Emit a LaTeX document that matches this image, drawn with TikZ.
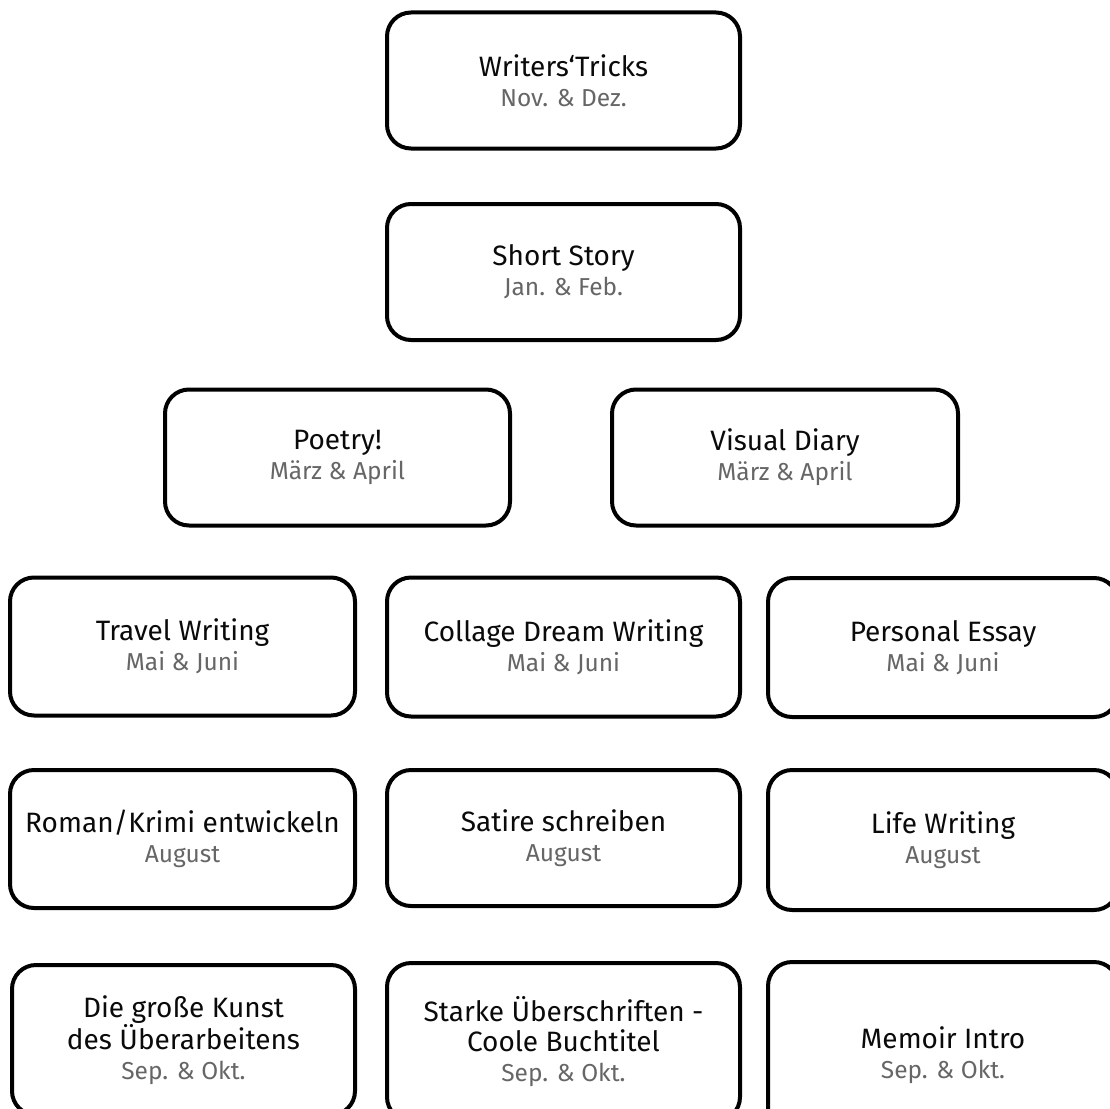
\documentclass[tikz,border=0pt]{standalone}
\usepackage{fontspec}
\setmainfont{Fira Sans}
\usepackage{xcolor}
\definecolor{datum}{HTML}{666666}
\definecolor{ink}{HTML}{0A0A0A}
\newcommand{\when}[1]{{\color{datum}\fontsize{24.5}{30}\selectfont #1}}
\tikzset{
  kurs/.style={draw=black, line width=4pt, rounded corners=24pt, fill=white,
    align=center, text=ink, font=\fontsize{28}{30}\selectfont,
    minimum width=#1, minimum height=136pt, inner sep=0pt},
  kurs/.default=353pt
}

\begin{document}
\begin{tikzpicture}[x=1pt, y=-1pt]
      %► Canvas, same size as the page
      \useasboundingbox (0,0) rectangle (1110,1108);

      %► Top column
      \node[kurs] (tricks) at (563.5,80.5)  {Writers‘Tricks\\\when{Nov. \& Dez.}};
      \node[kurs] (story)  at (563.5,272)   {Short Story\\\when{Jan. \& Feb.}};

      %► Third row
      \node[kurs=345pt] (poetry) at (337.5,457.5) {Poetry!\\\when{März \& April}};
      \node[kurs=346pt] (diary)  at (785,457.5)   {Visual Diary\\\when{März \& April}};

      %► Mai & Juni
      \node[kurs=345pt, minimum height=138pt] (travel)  at (182.5,646.5) {Travel Writing\\\when{Mai \& Juni}};
      \node[kurs, minimum height=139pt]       (collage) at (563.5,647)   {Collage Dream Writing\\\when{Mai \& Juni}};
      \node[kurs=350pt, minimum height=139pt] (essay)   at (943,647.5)   {Personal Essay\\\when{Mai \& Juni}};

      %► August
      \node[kurs=345pt, minimum height=138pt] (roman)  at (182.5,839) {Roman/Krimi entwickeln\\\when{August}};
      \node[kurs, minimum height=136pt]       (satire) at (563.5,838) {Satire schreiben\\\when{August}};
      \node[kurs=350pt, minimum height=140pt] (life)   at (943,840)   {Life Writing\\\when{August}};

      %► Sep. & Okt. (cut by the bottom edge)
      \node[kurs=343pt, minimum height=150pt] (kunst)  at (183.5,1040) {Die große Kunst\\des Überarbeitens\\\when{Sep. \& Okt.}};
      \node[kurs, minimum height=158pt]       (titel)  at (563.5,1042) {Starke Überschriften -\\Coole Buchtitel\\\when{Sep. \& Okt.}};
      \node[kurs=350pt, minimum height=186pt] (memoir) at (943,1055)   {Memoir Intro\\\when{Sep. \& Okt.}};
\end{tikzpicture}
\end{document}
